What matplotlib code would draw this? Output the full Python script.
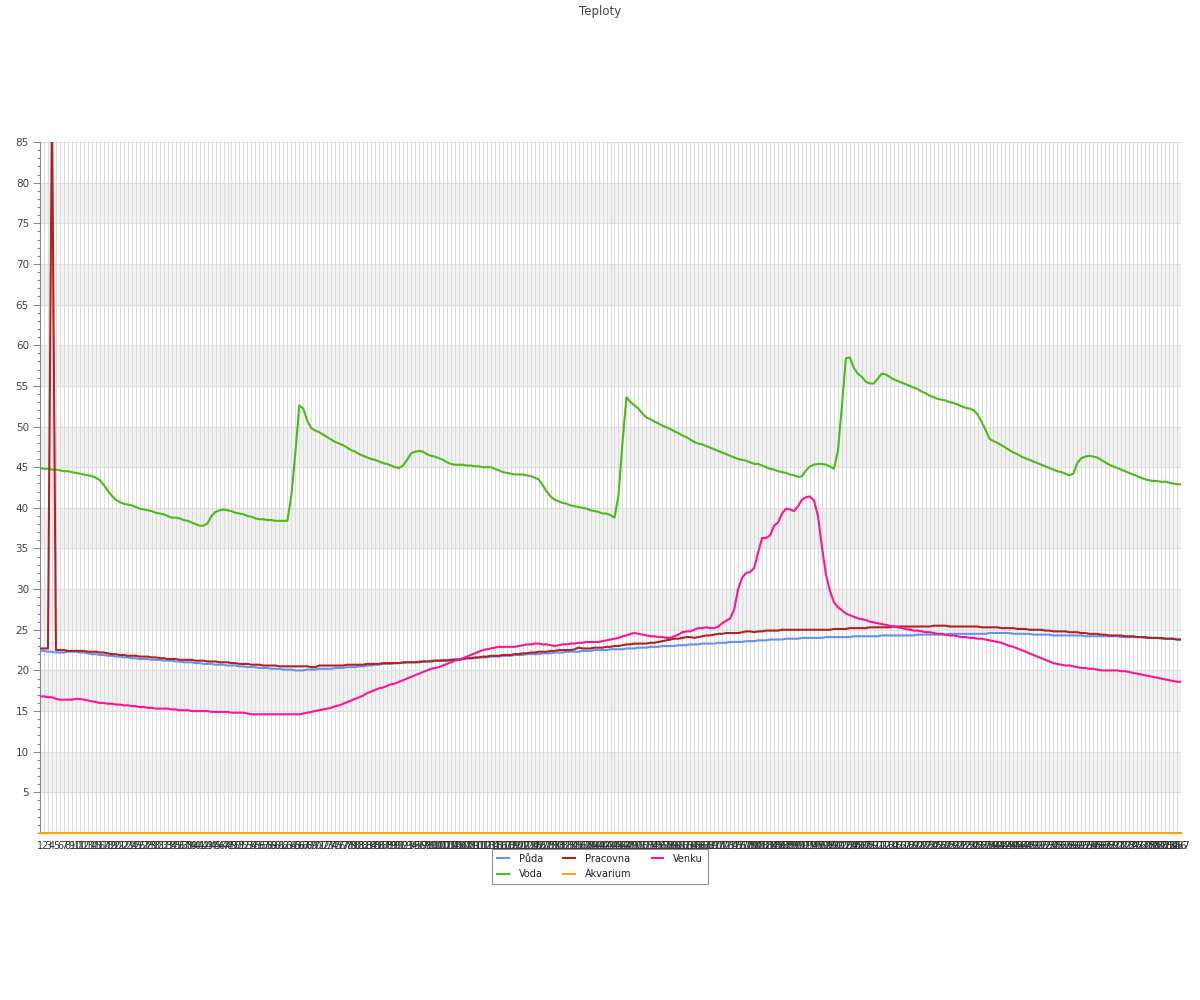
import matplotlib
matplotlib.use("Agg")
import matplotlib.pyplot as plt
from matplotlib.ticker import MultipleLocator

# categories (1..287 samples)
labels = [str(i) for i in range(1, 288)]

puda = [
    22.4, 22.4, 22.3, 22.3, 22.2, 22.2, 22.2, 22.3, 22.3, 22.3,
    22.2, 22.2, 22.1, 22.0, 22.0, 21.9, 21.9, 21.8, 21.8, 21.7,
    21.7, 21.6, 21.6, 21.5, 21.5, 21.4, 21.4, 21.4, 21.3, 21.3,
    21.3, 21.2, 21.2, 21.2, 21.1, 21.1, 21.0, 21.0, 21.0, 20.9,
    20.9, 20.8, 20.8, 20.8, 20.7, 20.7, 20.7, 20.6, 20.6, 20.6,
    20.5, 20.5, 20.4, 20.4, 20.4, 20.3, 20.3, 20.3, 20.2, 20.2,
    20.2, 20.1, 20.1, 20.1, 20.0, 20.0, 20.0, 20.1, 20.1, 20.1,
    20.2, 20.2, 20.2, 20.2, 20.3, 20.3, 20.3, 20.4, 20.4, 20.4,
    20.5, 20.5, 20.6, 20.6, 20.7, 20.7, 20.8, 20.8, 20.8, 20.9,
    20.9, 20.9, 21.0, 21.0, 21.0, 21.1, 21.1, 21.1, 21.2, 21.2,
    21.2, 21.3, 21.3, 21.3, 21.4, 21.4, 21.4, 21.5, 21.5, 21.5,
    21.6, 21.6, 21.6, 21.7, 21.7, 21.7, 21.8, 21.8, 21.8, 21.9,
    21.9, 21.9, 22.0, 22.0, 22.0, 22.0, 22.1, 22.1, 22.1, 22.2,
    22.2, 22.2, 22.3, 22.3, 22.3, 22.3, 22.4, 22.4, 22.4, 22.5,
    22.5, 22.5, 22.5, 22.6, 22.6, 22.6, 22.6, 22.7, 22.7, 22.7,
    22.8, 22.8, 22.8, 22.9, 22.9, 22.9, 23.0, 23.0, 23.0, 23.0,
    23.1, 23.1, 23.1, 23.2, 23.2, 23.2, 23.3, 23.3, 23.3, 23.3,
    23.4, 23.4, 23.4, 23.5, 23.5, 23.5, 23.5, 23.6, 23.6, 23.6,
    23.7, 23.7, 23.7, 23.8, 23.8, 23.8, 23.8, 23.9, 23.9, 23.9,
    23.9, 24.0, 24.0, 24.0, 24.0, 24.0, 24.0, 24.1, 24.1, 24.1,
    24.1, 24.1, 24.1, 24.1, 24.2, 24.2, 24.2, 24.2, 24.2, 24.2,
    24.2, 24.3, 24.3, 24.3, 24.3, 24.3, 24.3, 24.3, 24.3, 24.3,
    24.4, 24.4, 24.4, 24.4, 24.4, 24.4, 24.4, 24.4, 24.5, 24.5,
    24.5, 24.5, 24.5, 24.5, 24.5, 24.5, 24.5, 24.5, 24.6, 24.6,
    24.6, 24.6, 24.6, 24.6, 24.5, 24.5, 24.5, 24.5, 24.5, 24.4,
    24.4, 24.4, 24.4, 24.4, 24.3, 24.3, 24.3, 24.3, 24.3, 24.3,
    24.3, 24.3, 24.2, 24.2, 24.2, 24.2, 24.2, 24.2, 24.2, 24.2,
    24.2, 24.1, 24.1, 24.1, 24.1, 24.1, 24.1, 24.0, 24.0, 24.0,
    24.0, 23.9, 23.9, 23.9, 23.9, 23.8, 23.8,
]

voda = [
    44.9, 44.8, 44.8, 44.7, 44.7, 44.6, 44.5, 44.5, 44.4, 44.3,
    44.2, 44.1, 44.0, 43.9, 43.7, 43.4, 42.8, 42.1, 41.5, 41.0,
    40.7, 40.5, 40.4, 40.3, 40.1, 39.9, 39.8, 39.7, 39.6, 39.4,
    39.3, 39.2, 39.0, 38.8, 38.8, 38.7, 38.5, 38.4, 38.2, 38.0,
    37.8, 37.8, 38.1, 39.0, 39.5, 39.7, 39.8, 39.7, 39.6, 39.4,
    39.3, 39.2, 39.0, 38.9, 38.7, 38.6, 38.6, 38.5, 38.5, 38.4,
    38.4, 38.4, 38.4, 41.5, 46.7, 52.6, 52.2, 50.7, 49.8, 49.5,
    49.3, 49.0, 48.7, 48.4, 48.1, 47.9, 47.7, 47.4, 47.1, 46.9,
    46.6, 46.4, 46.2, 46.0, 45.9, 45.7, 45.5, 45.4, 45.2, 45.0,
    44.9, 45.2, 45.9, 46.7, 46.9, 47.0, 46.9, 46.6, 46.4, 46.3,
    46.1, 45.9, 45.6, 45.4, 45.3, 45.3, 45.3, 45.2, 45.2, 45.1,
    45.1, 45.0, 45.0, 45.0, 44.8, 44.6, 44.4, 44.3, 44.2, 44.1,
    44.1, 44.1, 44.0, 43.9, 43.7, 43.5, 42.8, 42.0, 41.4, 41.0,
    40.8, 40.6, 40.5, 40.3, 40.2, 40.1, 40.0, 39.9, 39.7, 39.6,
    39.5, 39.3, 39.3, 39.1, 38.8, 41.5, 48.0, 53.6, 53.0, 52.6,
    52.2, 51.6, 51.1, 50.9, 50.6, 50.4, 50.1, 49.9, 49.7, 49.4,
    49.2, 48.9, 48.7, 48.4, 48.1, 47.9, 47.8, 47.6, 47.4, 47.2,
    47.0, 46.8, 46.6, 46.4, 46.2, 46.0, 45.9, 45.8, 45.6, 45.4,
    45.4, 45.2, 45.0, 44.8, 44.7, 44.5, 44.4, 44.3, 44.1, 44.0,
    43.8, 43.9, 44.6, 45.1, 45.3, 45.4, 45.4, 45.3, 45.1, 44.8,
    47.0, 52.5, 58.4, 58.5, 57.2, 56.5, 56.1, 55.5, 55.3, 55.3,
    55.9, 56.5, 56.4, 56.1, 55.8, 55.6, 55.4, 55.2, 55.0, 54.8,
    54.6, 54.3, 54.1, 53.8, 53.6, 53.4, 53.3, 53.2, 53.0, 52.9,
    52.7, 52.5, 52.3, 52.2, 52.0, 51.5, 50.6, 49.6, 48.5, 48.2,
    48.0, 47.7, 47.4, 47.1, 46.8, 46.6, 46.3, 46.1, 45.9, 45.7,
    45.5, 45.3, 45.1, 44.9, 44.7, 44.5, 44.4, 44.2, 44.0, 44.2,
    45.5, 46.1, 46.3, 46.4, 46.3, 46.2, 45.9, 45.6, 45.3, 45.1,
    44.9, 44.7, 44.5, 44.3, 44.1, 43.9, 43.7, 43.5, 43.4, 43.3,
    43.3, 43.2, 43.2, 43.1, 43.0, 42.9, 42.9,
]

akvarium = [0.0] * 287

pracovna = [
    22.7, 22.7, 22.7, 90.0, 22.5, 22.5, 22.5, 22.4, 22.4, 22.4,
    22.4, 22.4, 22.3, 22.3, 22.3, 22.2, 22.2, 22.1, 22.0, 22.0,
    21.9, 21.9, 21.8, 21.8, 21.8, 21.7, 21.7, 21.7, 21.6, 21.6,
    21.5, 21.5, 21.4, 21.4, 21.4, 21.3, 21.3, 21.3, 21.3, 21.2,
    21.2, 21.2, 21.1, 21.1, 21.1, 21.0, 21.0, 21.0, 20.9, 20.9,
    20.8, 20.8, 20.8, 20.7, 20.7, 20.7, 20.6, 20.6, 20.6, 20.6,
    20.5, 20.5, 20.5, 20.5, 20.5, 20.5, 20.5, 20.5, 20.4, 20.4,
    20.6, 20.6, 20.6, 20.6, 20.6, 20.6, 20.6, 20.7, 20.7, 20.7,
    20.7, 20.7, 20.8, 20.8, 20.8, 20.8, 20.9, 20.9, 20.9, 20.9,
    20.9, 21.0, 21.0, 21.0, 21.0, 21.0, 21.1, 21.1, 21.1, 21.2,
    21.2, 21.2, 21.2, 21.3, 21.3, 21.3, 21.4, 21.5, 21.5, 21.6,
    21.6, 21.7, 21.7, 21.8, 21.8, 21.8, 21.9, 21.9, 21.9, 22.0,
    22.0, 22.1, 22.1, 22.2, 22.2, 22.3, 22.3, 22.3, 22.4, 22.4,
    22.5, 22.5, 22.5, 22.5, 22.6, 22.8, 22.7, 22.7, 22.7, 22.8,
    22.8, 22.8, 22.9, 22.9, 23.0, 23.0, 23.1, 23.2, 23.2, 23.3,
    23.3, 23.3, 23.3, 23.4, 23.4, 23.5, 23.6, 23.7, 23.8, 23.9,
    23.9, 24.0, 24.1, 24.1, 24.0, 24.1, 24.2, 24.3, 24.3, 24.4,
    24.5, 24.5, 24.6, 24.6, 24.6, 24.6, 24.7, 24.8, 24.8, 24.7,
    24.8, 24.8, 24.9, 24.9, 24.9, 24.9, 25.0, 25.0, 25.0, 25.0,
    25.0, 25.0, 25.0, 25.0, 25.0, 25.0, 25.0, 25.0, 25.0, 25.1,
    25.1, 25.1, 25.1, 25.2, 25.2, 25.2, 25.2, 25.2, 25.3, 25.3,
    25.3, 25.3, 25.3, 25.3, 25.4, 25.4, 25.4, 25.4, 25.4, 25.4,
    25.4, 25.4, 25.4, 25.4, 25.5, 25.5, 25.5, 25.5, 25.4, 25.4,
    25.4, 25.4, 25.4, 25.4, 25.4, 25.4, 25.3, 25.3, 25.3, 25.3,
    25.3, 25.2, 25.2, 25.2, 25.2, 25.1, 25.1, 25.1, 25.0, 25.0,
    25.0, 25.0, 24.9, 24.9, 24.8, 24.8, 24.8, 24.8, 24.7, 24.7,
    24.7, 24.6, 24.6, 24.5, 24.5, 24.5, 24.4, 24.4, 24.3, 24.3,
    24.3, 24.3, 24.2, 24.2, 24.2, 24.1, 24.1, 24.1, 24.0, 24.0,
    24.0, 24.0, 23.9, 23.9, 23.9, 23.8, 23.8,
]

venku = [
    16.8, 16.8, 16.7, 16.7, 16.5, 16.4, 16.4, 16.4, 16.4, 16.5,
    16.5, 16.4, 16.3, 16.2, 16.1, 16.0, 16.0, 15.9, 15.9, 15.8,
    15.8, 15.7, 15.7, 15.6, 15.6, 15.5, 15.5, 15.4, 15.4, 15.3,
    15.3, 15.3, 15.3, 15.2, 15.2, 15.1, 15.1, 15.1, 15.0, 15.0,
    15.0, 15.0, 15.0, 14.9, 14.9, 14.9, 14.9, 14.9, 14.8, 14.8,
    14.8, 14.8, 14.7, 14.6, 14.6, 14.6, 14.6, 14.6, 14.6, 14.6,
    14.6, 14.6, 14.6, 14.6, 14.6, 14.6, 14.7, 14.8, 14.9, 15.0,
    15.1, 15.2, 15.3, 15.4, 15.6, 15.7, 15.9, 16.1, 16.3, 16.5,
    16.7, 16.9, 17.2, 17.4, 17.6, 17.8, 17.9, 18.1, 18.3, 18.4,
    18.6, 18.8, 19.0, 19.2, 19.4, 19.6, 19.8, 20.0, 20.2, 20.3,
    20.4, 20.6, 20.8, 21.0, 21.2, 21.3, 21.5, 21.7, 21.9, 22.1,
    22.3, 22.5, 22.6, 22.7, 22.8, 22.9, 22.9, 22.9, 22.9, 22.9,
    23.0, 23.1, 23.2, 23.2, 23.3, 23.3, 23.2, 23.2, 23.1, 23.0,
    23.1, 23.2, 23.2, 23.3, 23.3, 23.4, 23.4, 23.5, 23.5, 23.5,
    23.5, 23.6, 23.7, 23.8, 23.9, 24.0, 24.2, 24.3, 24.5, 24.6,
    24.5, 24.4, 24.3, 24.2, 24.2, 24.1, 24.1, 24.0, 24.0, 24.2,
    24.4, 24.7, 24.8, 24.8, 25.0, 25.2, 25.2, 25.3, 25.2, 25.2,
    25.4, 25.8, 26.1, 26.4, 27.5, 30.0, 31.4, 32.0, 32.1, 32.6,
    34.5, 36.3, 36.3, 36.6, 37.8, 38.2, 39.3, 39.9, 39.8, 39.6,
    40.2, 41.0, 41.3, 41.4, 40.9, 39.0, 35.2, 31.8, 29.8, 28.4,
    27.8, 27.4, 27.0, 26.8, 26.6, 26.4, 26.3, 26.2, 26.0, 25.9,
    25.8, 25.7, 25.6, 25.5, 25.4, 25.3, 25.2, 25.1, 25.0, 24.9,
    24.9, 24.8, 24.7, 24.7, 24.6, 24.5, 24.5, 24.4, 24.3, 24.3,
    24.2, 24.1, 24.1, 24.0, 24.0, 23.9, 23.9, 23.8, 23.7, 23.6,
    23.5, 23.4, 23.2, 23.0, 22.9, 22.7, 22.5, 22.3, 22.1, 21.9,
    21.7, 21.5, 21.3, 21.1, 20.9, 20.8, 20.7, 20.6, 20.6, 20.5,
    20.4, 20.3, 20.3, 20.2, 20.2, 20.1, 20.0, 20.0, 20.0, 20.0,
    20.0, 19.9, 19.9, 19.8, 19.7, 19.6, 19.5, 19.4, 19.3, 19.2,
    19.1, 19.0, 18.9, 18.8, 18.7, 18.6, 18.6,
]

text_color = "#444444"

fig = plt.figure(figsize=(12, 10), dpi=100)
ax = fig.add_axes([40 / 1200, 1 - 833 / 1000, 1141 / 1200, 691 / 1000])

x = list(range(len(labels)))

# alternating horizontal bands
for lo in range(5, 85, 10):
    ax.axhspan(lo, lo + 5, color="#f2f2f2", zorder=0, lw=0)
for v in range(5, 86, 5):
    ax.axhline(v, color="#e0e0e0", lw=0.8, zorder=0.5)
for xi in x:
    ax.axvline(xi, color="#dddddd", lw=0.8, zorder=0.6)

l_puda, = ax.plot(x, puda, color="#6495ED", lw=1.5, label="Půda", zorder=3)
l_voda, = ax.plot(x, voda, color="#4CBB17", lw=1.5, label="Voda", zorder=3)
l_akv, = ax.plot(x, akvarium, color="#FFA500", lw=1.5, label="Akvarium", zorder=3, clip_on=False)
l_prac, = ax.plot(x, pracovna, color="#B22222", lw=1.5, label="Pracovna", zorder=3)
l_venku, = ax.plot(x, venku, color="#FF1493", lw=1.5, label="Venku", zorder=3)

ax.set_xlim(0, len(labels) - 1)
ax.set_ylim(0, 85)
ax.set_xticks(x)
ax.set_xticklabels(labels, fontsize=7, color="#333333")
ax.tick_params(axis="x", length=0, pad=6)

ax.yaxis.set_major_locator(MultipleLocator(5))
ax.yaxis.set_minor_locator(MultipleLocator(1))
ax.set_yticks(range(5, 86, 5))
ax.tick_params(axis="y", which="major", length=5, width=0.8, color="#888888",
               labelsize=7.5, labelcolor=text_color, pad=3)
ax.tick_params(axis="y", which="minor", length=2.5, width=0.8, color="#888888")

for s in ["top", "right"]:
    ax.spines[s].set_visible(False)
ax.spines["left"].set_color("#888888")
ax.spines["bottom"].set_color("#888888")

fig.text(0.5, 1 - 11 / 1000, "Teploty", ha="center", va="center",
         fontsize=8.5, color=text_color)

leg = fig.legend([l_puda, l_voda, l_prac, l_akv, l_venku],
                 ["Půda", "Voda", "Pracovna", "Akvarium", "Venku"],
                 loc="upper center", bbox_to_anchor=(0.5, 1 - 844 / 1000),
                 ncol=3, fontsize=7, frameon=True, fancybox=False,
                 edgecolor="#777777", handlelength=1.2, handletextpad=1.0,
                 columnspacing=2.1, borderpad=0.5, labelspacing=0.55)
leg.get_frame().set_linewidth(0.8)
for t in leg.get_texts():
    t.set_color("#222222")

fig.savefig("out.png", dpi=100)
